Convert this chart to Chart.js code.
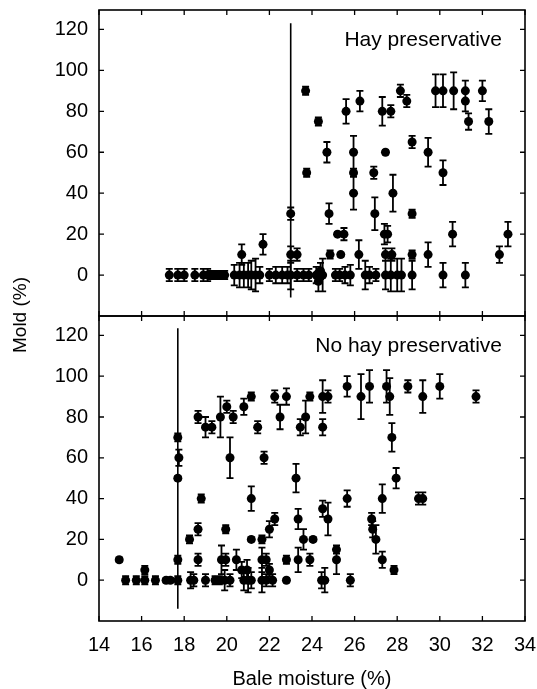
<!DOCTYPE html>
<html>
<head>
<meta charset="utf-8">
<script src="https://cdn.jsdelivr.net/npm/chart.js@4.4.1/dist/chart.umd.min.js"></script>
<style>
html,body{margin:0;padding:0;background:#fff;}
#wrap{position:relative;width:537px;height:689px;overflow:hidden;background:#fff;}
canvas{position:absolute;left:0;}
#ylab{position:absolute;left:20px;top:315px;transform:translate(-50%,-50%) rotate(-90deg);font-family:"Liberation Sans",Arial,sans-serif;font-size:19px;color:#000;white-space:nowrap;}
</style>
</head>
<body>
<div id="wrap">
<canvas id="top" width="537" height="330" style="top:0"></canvas>
<canvas id="bot" width="537" height="389" style="top:300px"></canvas>
<div id="ylab">Mold (%)</div>
</div>
<script>
// ---- data ----
const xTicks = [14,16,18,20,22,24,26,28,30,32,34];
const yTicks = [0,20,40,60,80,100,120];

const hayLabel = "Hay preservative";
const noHayLabel = "No hay preservative";

const hayThreshold = 23.0;
const hayThresholdSpan = [-11, 123];
const noHayThreshold = 17.7;
const noHayThresholdSpan = [-14, 123.5];

// Hay preservative: bale moisture (%), mold (%), error (+/-)
const hayX = [17.3,17.7,18.0,18.5,18.9,19.1,19.3,19.5,19.7,19.9,20.35,20.6,20.8,21.0,21.15,21.35,21.55,22.0,22.3,22.6,22.85,23.0,23.3,23.6,23.85,24.2,24.3,24.4,24.5,25.1,25.3,25.55,25.8,26.5,26.7,27.0,27.45,27.7,28.0,28.2,28.7,30.15,31.2,
  20.7,21.7,23.0,23.0,23.3,23.7,23.75,24.3,24.7,24.8,24.85,25.2,25.35,25.5,25.6,25.95,25.95,25.95,26.2,26.25,26.9,26.95,27.3,27.45,27.4,27.55,27.45,27.75,27.7,27.8,28.15,28.45,28.7,28.7,28.7,29.45,29.45,29.8,30.15,30.15,30.6,30.65,31.2,31.2,31.35,32.0,32.3,32.8,33.2];
const hayY = [0,0,0,0,0,0,0,0,0,0,0,0,0,0,0,0,0,0,0,0,0,0,0,0,0,0,-3,2,0,0,0,0,0,0,0,0,0,0,0,0,0,0,0,
  10,15,30,10,10,90,50,75,60,30,10,20,10,20,80,60,50,40,10,85,50,30,80,60,20,20,10,10,80,40,90,85,65,30,10,60,10,90,90,50,20,90,90,85,75,90,75,10,20];
const hayErr = [3,3,3,3,3,3,2,2,2,2,5,6,6,6,7,8,4,3,4,4,4,7,3,3,3,4,5,4,8,3,3,4,5,7,4,3,7,8,8,8,7,6,6,
  5,5,3,4,3,2,2,2,5,5,2,1,1,3,6,8,2,8,7,5,3,8,7,1,5,4,3,3,3,9,3,3,3,2,2,7,6,8,8,6,6,9,5,5,4,5,6,4,6];

// No hay preservative
const noHayX = [14.95,15.25,15.75,16.15,16.15,16.65,17.15,17.35,17.7,17.7,17.7,17.7,17.75,18.25,18.3,18.45,18.65,18.65,18.65,18.8,19.0,19.0,19.3,19.45,19.65,19.7,19.75,19.95,19.9,20.15,20.0,20.15,20.3,19.95,20.45,20.7,20.8,20.95,21.0,21.15,20.8,21.15,21.15,21.15,21.45,21.65,21.65,21.85,21.75,21.65,21.85,22.0,22.15,22.0,22.25,22.25,22.5,22.8,22.8,22.8,23.25,23.35,23.35,23.45,23.6,23.7,23.9,24.05,23.9,24.5,24.5,24.5,24.45,24.6,24.75,24.75,25.15,25.15,25.65,25.65,25.8,26.3,26.7,26.8,26.85,27.0,27.3,27.3,27.5,27.65,27.75,27.85,27.95,28.5,29.0,29.2,29.2,30.0,31.7];
const noHayY = [10,0,0,0,5,0,0,0,0,10,70,50,60,20,0,0,80,25,10,40,75,0,75,0,0,80,10,10,0,0,85,60,80,25,10,5,0,5,0,0,85,90,40,20,75,20,10,10,60,0,0,5,0,25,30,90,80,90,10,0,50,30,10,75,20,80,10,20,90,90,75,35,0,0,90,30,15,10,95,40,0,90,95,30,25,20,40,10,95,90,70,5,50,95,40,90,40,95,90];
const noHayErr = [1,2,2,2,2,2,1,1,2,2,2,1,4,2,4,3,3,3,3,2,5,3,3,2,2,10,7,3,5,3,3,10,3,2,5,4,5,5,6,4,4,2,6,1,3,2,6,3,3,6,3,3,3,4,3,3,6,4,2,1,7,5,6,4,5,8,3,1,2,8,4,4,4,6,3,8,2,7,5,4,3,11,8,3,4,7,7,4,8,9,7,2,5,3,3,8,3,6,3];

// ---- plugins ----
const FONT = '"Liberation Sans", Arial, sans-serif';

const framePlugin = {
  id: 'frame',
  afterDraw(chart) {
    const {ctx, chartArea: a, scales} = chart;
    const xs = scales.x, ys = scales.y;
    ctx.save();
    ctx.strokeStyle = '#000';
    ctx.lineWidth = 1.6;
    ctx.strokeRect(a.left, a.top, a.right - a.left, a.bottom - a.top);
    ctx.lineWidth = 1.3;
    const L = 5;
    ctx.beginPath();
    xTicks.forEach(v => {
      const px = xs.getPixelForValue(v);
      ctx.moveTo(px, a.top); ctx.lineTo(px, a.top + L);
      ctx.moveTo(px, a.bottom); ctx.lineTo(px, a.bottom - L);
    });
    yTicks.forEach(v => {
      const py = ys.getPixelForValue(v);
      ctx.moveTo(a.left, py); ctx.lineTo(a.left + L, py);
      ctx.moveTo(a.right, py); ctx.lineTo(a.right - L, py);
    });
    ctx.stroke();
    // panel label
    ctx.fillStyle = '#000';
    ctx.font = '21px ' + FONT;
    ctx.textAlign = 'right';
    ctx.textBaseline = 'alphabetic';
    ctx.fillText(chart.options.plugins.frame.label, a.right - 23, a.top + 36);
    ctx.restore();
  }
};

const errorPlugin = {
  id: 'errbars',
  beforeDatasetsDraw(chart) {
    const {ctx, scales} = chart;
    const ds = chart.data.datasets[0];
    const errs = chart.options.plugins.errbars.errs;
    ctx.save();
    ctx.strokeStyle = '#000';
    ctx.lineWidth = 1.8;
    ctx.beginPath();
    ds.data.forEach((p, i) => {
      const e = errs[i];
      const px = scales.x.getPixelForValue(p.x);
      const y1 = scales.y.getPixelForValue(p.y + e);
      const y2 = scales.y.getPixelForValue(p.y - e);
      const c = 3.5;
      ctx.moveTo(px, y1); ctx.lineTo(px, y2);
      ctx.moveTo(px - c, y1); ctx.lineTo(px + c, y1);
      ctx.moveTo(px - c, y2); ctx.lineTo(px + c, y2);
    });
    ctx.stroke();
    ctx.restore();
  }
};

function makeChart(id, xs, ys, es, thr, span, label, isBottom) {
  const pts = xs.map((x, i) => ({x: x, y: ys[i]}));
  return new Chart(document.getElementById(id), {
    type: 'scatter',
    data: {
      datasets: [
        {data: pts, backgroundColor: '#000', borderColor: '#000', pointRadius: 4.5, pointHoverRadius: 4.5, pointBorderWidth: 0},
        {type: 'line', data: span.map(y => ({x: thr, y: y})), borderColor: '#000', borderWidth: 1.6, pointRadius: 0, showLine: true, fill: false}
      ]
    },
    options: {
      responsive: false,
      animation: false,
      events: [],
      layout: {padding: {left: 0, right: 12, top: isBottom ? 16 : 10, bottom: isBottom ? 0 : 14}},
      plugins: {
        legend: {display: false},
        tooltip: {enabled: false},
        frame: {label: label},
        errbars: {errs: es}
      },
      scales: {
        x: {
          type: 'linear', min: 14, max: 34, display: isBottom,
          afterBuildTicks: s => { s.ticks = xTicks.map(v => ({value: v})); },
          afterFit: s => {
            s.height = isBottom ? 68 : 0;
            s.paddingLeft = 0; s.paddingRight = 0; s.paddingTop = 0; s.paddingBottom = 0;
          },
          grid: {display: false, drawTicks: false},
          border: {display: false},
          ticks: {color: '#000', font: {family: FONT, size: 20}, padding: 12, maxRotation: 0, autoSkip: false},
          title: {display: true, text: 'Bale moisture (%)', color: '#000', font: {family: FONT, size: 20, lineHeight: 1.0}, padding: {top: 0, bottom: 0}}
        },
        y: {
          type: 'linear', min: -20, max: 129.5,
          afterBuildTicks: s => { s.ticks = yTicks.map(v => ({value: v})); },
          afterFit: s => {
            s.width = 99;
            s.paddingLeft = 0; s.paddingRight = 0; s.paddingTop = 0; s.paddingBottom = 0;
          },
          grid: {display: false, drawTicks: false},
          border: {display: false},
          ticks: {color: '#000', font: {family: FONT, size: 20}, padding: 11, autoSkip: false}
        }
      }
    },
    plugins: [framePlugin, errorPlugin]
  });
}

makeChart('top', hayX, hayY, hayErr, hayThreshold, hayThresholdSpan, hayLabel, false);
makeChart('bot', noHayX, noHayY, noHayErr, noHayThreshold, noHayThresholdSpan, noHayLabel, true);
</script>
</body>
</html>
